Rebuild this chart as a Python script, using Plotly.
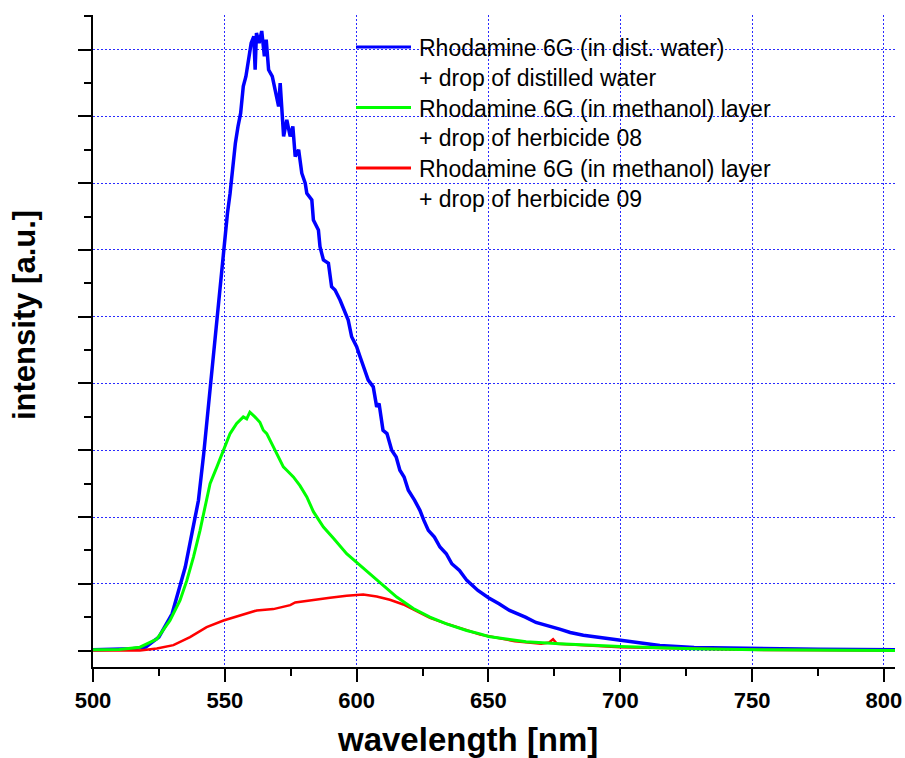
import plotly.graph_objects as go

# ---- data ----
blue_x = [500, 510, 515, 520, 525, 530, 533, 535, 537.5, 540, 542, 544, 545, 546, 547, 548, 549, 550,
          551, 552, 553, 554, 555, 556, 557, 558, 559, 560, 561, 561.5, 562, 563, 564, 565, 565.7, 566.6,
          568, 569.5, 570.4, 571, 572.3, 573.5, 574.8, 575.8, 576.7, 578, 579.2, 580.5, 581.1, 583, 583.6,
          585.5, 586.1, 587.4, 589.3, 590.5, 591.8, 593.7, 595.6, 596.8, 598.1, 600, 601.3, 603.2, 604.4,
          606.3, 607.6, 608.5, 610, 611.5, 613.3, 615, 616.4, 618, 619.6, 622, 624, 625.5, 627.2, 629.5,
          631.6, 634, 636.1, 639, 641.8, 646, 650, 654, 658, 664, 668,
          677, 681, 686, 690, 700, 715, 728, 750, 775, 805]
blue_y = [0.01, 0.015, 0.025, 0.05, 0.2, 0.55, 0.95, 1.25, 1.75, 2.25, 2.95, 3.75, 4.1, 4.6, 5.0, 5.4, 5.75, 6.1,
          6.55, 6.85, 7.25, 7.6, 7.85, 8.05, 8.45, 8.6, 8.85, 9.1, 9.2, 8.7, 9.25, 9.1, 9.28, 8.9, 9.15, 8.7,
          8.6, 8.35, 8.15, 8.5, 7.7, 7.95, 7.7, 7.85, 7.4, 7.5, 7.15, 7.0, 6.85, 6.75, 6.45,
          6.3, 6.05, 5.85, 5.8, 5.45, 5.4, 5.25, 5.05, 4.95, 4.7, 4.55, 4.4, 4.2, 4.05,
          3.95, 3.65, 3.7, 3.3, 3.25, 3.0, 2.9, 2.7, 2.6, 2.4, 2.25, 2.1, 1.95, 1.8, 1.7,
          1.55, 1.45, 1.3, 1.2, 1.05, 0.9, 0.79, 0.7, 0.6, 0.5, 0.42,
          0.32, 0.27, 0.23, 0.21, 0.15, 0.075, 0.045, 0.03, 0.02, 0.01]

green_x = [500, 510, 517.8, 524.2, 529.2, 533, 535.6, 538.1, 540.6, 542.5, 544.4, 547, 549.5, 552, 554.5,
           557, 558.3, 559.5, 561.4, 563.3, 564.6, 565.9, 567.8, 570.3, 572.2, 573.5, 576, 578.5, 581.1,
           583.6, 587.4, 591.2, 596.2, 600, 605.1, 610.1, 615.2, 621.5, 627.8, 634.1, 641.7, 646.8, 650,
           664.3, 676.9, 700, 727.7, 752, 805]
green_y = [0.01, 0.015, 0.05, 0.17, 0.45, 0.75, 1.05, 1.4, 1.8, 2.15, 2.5, 2.75, 3.0, 3.25, 3.4,
           3.5, 3.47, 3.57, 3.5, 3.42, 3.3, 3.25, 3.1, 2.9, 2.75, 2.7, 2.6, 2.47, 2.3,
           2.08, 1.85, 1.68, 1.45, 1.32, 1.15, 0.97, 0.8, 0.63, 0.5, 0.4, 0.3, 0.25, 0.21,
           0.13, 0.1, 0.06, 0.025, 0.01, 0.0]

red_x = [500, 517.8, 524.2, 530.5, 536.8, 543.1, 549.5, 555.8, 562.1, 568.4, 574.8, 576.7, 583.6, 589.9,
         596.2, 602.5, 607.6, 612.6, 617.7, 622.8, 627.8, 634.1, 646.8, 660, 670, 673, 674.5, 676,
         700, 750, 805]
red_y = [0.0, 0.0, 0.03, 0.08, 0.2, 0.35, 0.45, 0.53, 0.6, 0.62, 0.68, 0.72, 0.76, 0.79,
         0.82, 0.84, 0.81, 0.76, 0.69, 0.59, 0.49, 0.4, 0.24, 0.14, 0.1, 0.12, 0.17, 0.1,
         0.05, 0.01, 0.0]

legend_lines = [
    ("Rhodamine 6G (in dist. water)", "+ drop of distilled water"),
    ("Rhodamine 6G (in methanol) layer", "+ drop of herbicide 08"),
    ("Rhodamine 6G (in methanol) layer", "+ drop of herbicide 09"),
]
colors = ["#0000FF", "#00FF00", "#FF0000"]
x_ticks = [500, 550, 600, 650, 700, 750, 800]

FONT = "Liberation Sans, Arial, sans-serif"

fig = go.Figure()
fig.add_trace(go.Scatter(x=blue_x, y=blue_y, mode="lines", line=dict(color=colors[0], width=3.5),
                         name=" ".join(legend_lines[0]), showlegend=False))
fig.add_trace(go.Scatter(x=red_x, y=red_y, mode="lines", line=dict(color=colors[2], width=2.5),
                         name=" ".join(legend_lines[2]), showlegend=False))
fig.add_trace(go.Scatter(x=green_x, y=green_y, mode="lines", line=dict(color=colors[1], width=3),
                         name=" ".join(legend_lines[1]), showlegend=False))

W, H = 905, 758
PL, PR, PT, PB = 93, 895, 15, 667   # plot area in page pixels
L, R, T, B = PL, W - PR, PT, H - PB
pw, ph = PR - PL, PB - PT

def px(xp):
    return (xp - PL) / pw

def py(yp):
    return (PB - yp) / ph

grid_dash = "2px,2px"

fig.update_layout(
    width=W, height=H, autosize=False,
    margin=dict(l=L, r=R, t=T, b=B, pad=0, autoexpand=False),
    paper_bgcolor="white", plot_bgcolor="white",
    showlegend=False,
    font=dict(family=FONT, color="black"),
    xaxis=dict(
        range=[500, 804.2], tickvals=x_ticks, ticktext=[str(v) for v in x_ticks],
        automargin=False,
        ticks="outside", ticklen=13, tickwidth=2, tickcolor="black",
        minor=dict(dtick=25, tick0=500, ticks="outside", ticklen=7, tickwidth=2, tickcolor="black", showgrid=False),
        showline=True, linewidth=2, linecolor="black",
        showgrid=True, gridcolor="#2a2aff", gridwidth=1, griddash=grid_dash,
        zeroline=False,
        tickfont=dict(family=FONT, size=22, color="black", weight="bold"),
    ),
    yaxis=dict(
        range=[-0.247, 9.52], dtick=1, tick0=0,
        automargin=False,
        ticks="outside", ticklen=13, tickwidth=2, tickcolor="black",
        minor=dict(dtick=0.5, tick0=0, ticks="outside", ticklen=7, tickwidth=2, tickcolor="black", showgrid=False),
        showticklabels=False,
        showline=True, linewidth=2, linecolor="black",
        showgrid=True, gridcolor="#2a2aff", gridwidth=1, griddash=grid_dash,
        zeroline=False,
    ),
)

# axis titles
fig.add_annotation(text="<b>wavelength [nm]</b>", xref="paper", yref="paper",
                   x=px(467), y=py(740), xanchor="center", yanchor="middle", showarrow=False,
                   font=dict(family=FONT, size=33, color="black"))
fig.add_annotation(text="<b>intensity [a.u.]</b>", xref="paper", yref="paper",
                   x=px(24), y=py(315), xanchor="center", yanchor="middle", showarrow=False,
                   textangle=-90, font=dict(family=FONT, size=31, color="black"))

# manual legend
leg_y = [47, 107.5, 168]
for (l1, l2), c, yy in zip(legend_lines, colors, leg_y):
    fig.add_shape(type="line", xref="paper", yref="paper", x0=px(356), x1=px(411), y0=py(yy), y1=py(yy),
                  line=dict(color=c, width=3))
    fig.add_annotation(text=l1, xref="paper", yref="paper", x=px(417), y=py(yy + 1), xanchor="left",
                       yanchor="middle", showarrow=False, font=dict(family=FONT, size=23, color="black"))
    fig.add_annotation(text=l2, xref="paper", yref="paper", x=px(417), y=py(yy + 31), xanchor="left",
                       yanchor="middle", showarrow=False, font=dict(family=FONT, size=23, color="black"))

fig.write_html("out.html", config={"displayModeBar": False},
               post_script="document.body.style.margin='0';document.body.style.overflow='hidden';")
